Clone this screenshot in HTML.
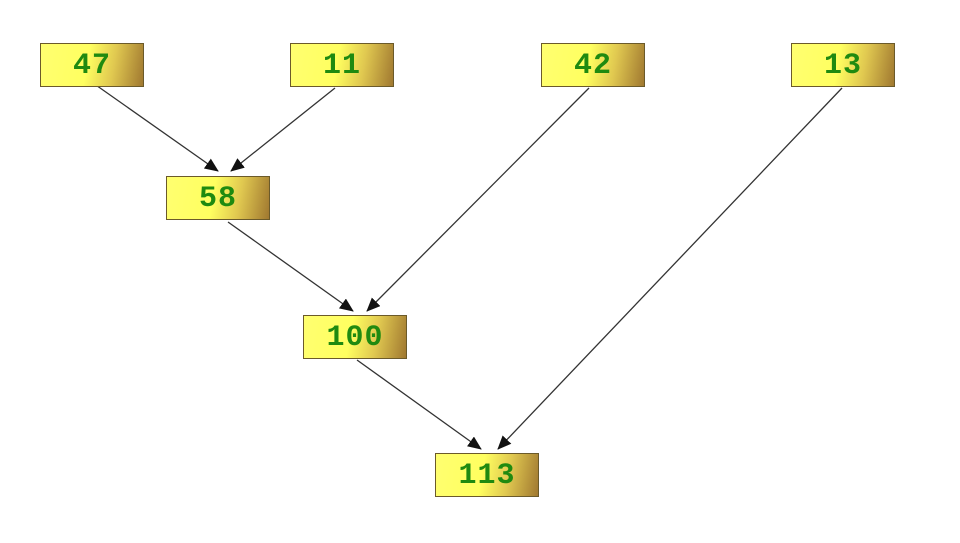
<!DOCTYPE html>
<html><head><style>
body{margin:0;width:960px;height:543px;background:#fff;position:relative;overflow:hidden}
.b{position:absolute;width:104px;height:44px;box-sizing:border-box;border:1px solid #6b5a2a;
background:linear-gradient(100deg,#ffff70 0%,#ffff60 45%,#e0c850 70%,#a07830 100%);
font:bold 30px "Liberation Mono",monospace;color:#1f8a10;text-align:center;line-height:44px;letter-spacing:1px}
svg{position:absolute;left:0;top:0}
</style></head><body>
<svg width="960" height="543">
<defs><marker id="a" markerWidth="14" markerHeight="12" refX="13" refY="6" orient="auto" markerUnits="userSpaceOnUse" viewBox="0 0 14 12"><path d="M0,0 L14,6 L0,12 z" fill="#111"/></marker></defs>
<g stroke="#333" stroke-width="1.3" marker-end="url(#a)" fill="none">
<line x1="93" y1="83" x2="218" y2="171"/>
<line x1="335" y1="88" x2="231" y2="171"/>
<line x1="228" y1="222" x2="353" y2="311"/>
<line x1="589" y1="88" x2="367" y2="311"/>
<line x1="357" y1="360" x2="481" y2="449"/>
<line x1="842" y1="88" x2="498" y2="449"/>
</g></svg>
<div class="b" style="left:40px;top:43px">47</div>
<div class="b" style="left:290px;top:43px">11</div>
<div class="b" style="left:541px;top:43px">42</div>
<div class="b" style="left:791px;top:43px">13</div>
<div class="b" style="left:166px;top:176px">58</div>
<div class="b" style="left:303px;top:315px">100</div>
<div class="b" style="left:435px;top:453px">113</div>
</body></html>
